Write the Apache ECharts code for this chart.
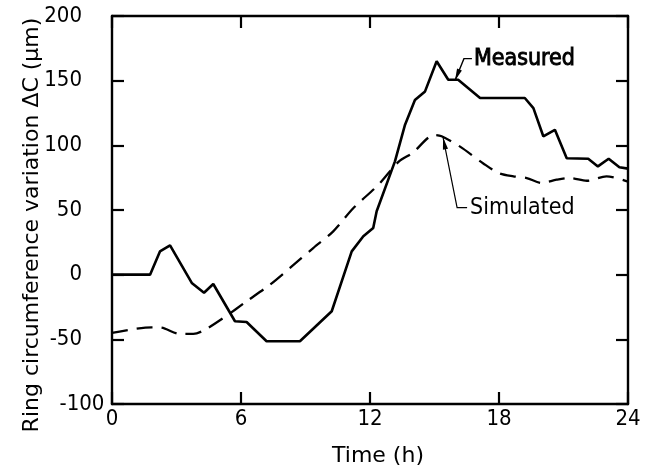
<!DOCTYPE html>
<html>
<head>
<meta charset="utf-8">
<script src="https://cdn.jsdelivr.net/npm/echarts@6/dist/echarts.min.js"></script>
<style>html,body{margin:0;padding:0;background:#fff;}#c{width:653px;height:473px;}</style>
</head>
<body>
<div id="c"></div>
<script>
// Measured (solid) : time (h) and ΔC (µm)
var measuredT = [0, 1.77, 2.23, 2.7, 3.71, 4.28, 4.71, 5.72, 6.26, 7.19, 8.74, 10.22, 11.15, 11.69, 12.15, 12.31, 13.16, 13.63, 14.09, 14.56, 15.1, 15.64, 16.1, 17.12, 19.2, 19.6, 20.06, 20.6, 21.15, 22.15, 22.6, 23.1, 23.6, 24];
var measuredV = [0, 0, 18, 22.7, -6.4, -14, -7.2, -36, -36.6, -51.5, -51.5, -28.3, 18, 29.7, 36, 49, 87.6, 116, 135, 141.7, 165, 150.7, 150.7, 136.6, 136.6, 128.8, 107, 112, 90, 89.6, 83.7, 89.6, 83, 82];
// Simulated (dashed)
var simT = [0, 1.85, 2.3, 3.16, 3.78, 4.33, 5.18, 6.26, 7.35, 8.28, 9.36, 10.29, 11.23, 12.39, 13.35, 13.97, 15.0, 15.33, 16.19, 17.27, 17.98, 18.67, 19.29, 19.99, 20.68, 21.3, 22.08, 23.0, 24];
var simV = [-45, -40.7, -41, -45.8, -45.8, -42.5, -33.5, -20.6, -7.7, 5.2, 20.6, 33.5, 51.5, 69.5, 87.6, 94, 108, 107, 99, 86, 78.6, 76, 74.7, 70.9, 73.4, 74.7, 72.6, 76, 72];
// axes
var xTicks = [0, 6, 12, 18, 24];
var yTicks = [-100, -50, 0, 50, 100, 150, 200];
var xName = 'Time (h)';
var yName = 'Ring circumference variation ΔC (μm)';
var measuredLabel = 'Measured';
var simLabel = 'Simulated';
// annotation arrow tips (data coords)
var measuredTip = [15.95, 150];
var simTip = [15.4, 106];

var FONT = "'Liberation Sans Narrow', 'DejaVu Sans Condensed', 'Liberation Sans', sans-serif";
function zip(a, b) { return a.map(function (v, i) { return [v, b[i]]; }); }

var chart = echarts.init(document.getElementById('c'));
var axisLine = { show: true, onZero: false, lineStyle: { color: '#000', width: 2.4 } };
var tick = { show: true, inside: true, length: 12, lineStyle: { color: '#000', width: 2.2 } };
chart.setOption({
  animation: false,
  backgroundColor: '#fff',
  grid: { left: 112, right: 25, top: 16, bottom: 69 },
  xAxis: [{
    type: 'value', min: xTicks[0], max: xTicks[xTicks.length - 1], interval: 6, position: 'bottom',
    axisLine: axisLine, axisTick: tick, splitLine: { show: false },
    axisLabel: { color: '#000', fontSize: 22, fontFamily: FONT, margin: 4 },
    name: xName, nameLocation: 'middle', nameGap: 41, nameMoveOverlap: false,
    nameTextStyle: { color: '#000', fontSize: 22, fontFamily: "'DejaVu Sans', sans-serif", padding: [0, 0, 0, 16] }
  }, {
    type: 'value', min: 0, max: 24, interval: 6, position: 'top',
    axisLine: axisLine, axisTick: tick, splitLine: { show: false }, axisLabel: { show: false }
  }],
  yAxis: [{
    type: 'value', min: yTicks[0], max: yTicks[yTicks.length - 1], interval: 50, position: 'left',
    axisLine: axisLine, axisTick: tick, splitLine: { show: false },
    axisLabel: { color: '#000', fontSize: 22, fontFamily: FONT, margin: 30, alignMinLabel: 'center' },
    name: yName, nameLocation: 'middle', nameGap: 69, nameMoveOverlap: false,
    nameTextStyle: { color: '#000', fontSize: 22, fontFamily: "'DejaVu Sans', sans-serif", padding: [0, 0, 0, -30] }
  }, {
    type: 'value', min: -100, max: 200, interval: 50, position: 'right',
    axisLine: axisLine, axisTick: tick, splitLine: { show: false }, axisLabel: { show: false }
  }],
  series: [{
    type: 'line', data: zip(measuredT, measuredV), showSymbol: false, symbol: 'none',
    lineStyle: { color: '#000', width: 2.6 }, z: 3
  }, {
    type: 'line', data: zip(simT, simV), showSymbol: false, symbol: 'none', smooth: 0.3,
    lineStyle: { color: '#000', width: 2.3, type: [16, 9] }, z: 2
  }]
});

var pm = chart.convertToPixel({ gridIndex: 0 }, measuredTip);
var ps = chart.convertToPixel({ gridIndex: 0 }, simTip);
function arrowHead(tip, from, len, half) {
  var dx = from[0] - tip[0], dy = from[1] - tip[1];
  var d = Math.sqrt(dx * dx + dy * dy); dx /= d; dy /= d;
  var bx = tip[0] + dx * len, by = tip[1] + dy * len;
  return [[tip[0], tip[1]], [bx - dy * half, by + dx * half], [bx + dy * half, by - dx * half]];
}
var mKink = [pm[0] + 9, pm[1] - 22], mEnd = [pm[0] + 17, pm[1] - 22];
var sKink = [ps[0] + 14, ps[1] + 70], sEnd = [ps[0] + 24, ps[1] + 70];
var LFONT = "23px 'Liberation Sans Narrow', 'DejaVu Sans Condensed', sans-serif";
chart.setOption({
  graphic: [
    { type: 'polyline', shape: { points: [pm, mKink, mEnd] }, style: { stroke: '#000', lineWidth: 1.4, fill: null } },
    { type: 'polygon', shape: { points: arrowHead(pm, mKink, 12, 2.6) }, style: { fill: '#000' } },
    { type: 'text', x: mEnd[0] + 2, y: mEnd[1], style: { text: measuredLabel, font: LFONT, fill: '#000', stroke: '#000', lineWidth: 0.9, verticalAlign: 'middle', align: 'left' } },
    { type: 'polyline', shape: { points: [ps, sKink, sEnd] }, style: { stroke: '#000', lineWidth: 1.2, fill: null } },
    { type: 'polygon', shape: { points: arrowHead(ps, sKink, 12, 2.6) }, style: { fill: '#000' } },
    { type: 'text', x: sEnd[0] + 3, y: sEnd[1], style: { text: simLabel, font: LFONT, fill: '#000', verticalAlign: 'middle', align: 'left' } }
  ]
});
</script>
</body>
</html>
